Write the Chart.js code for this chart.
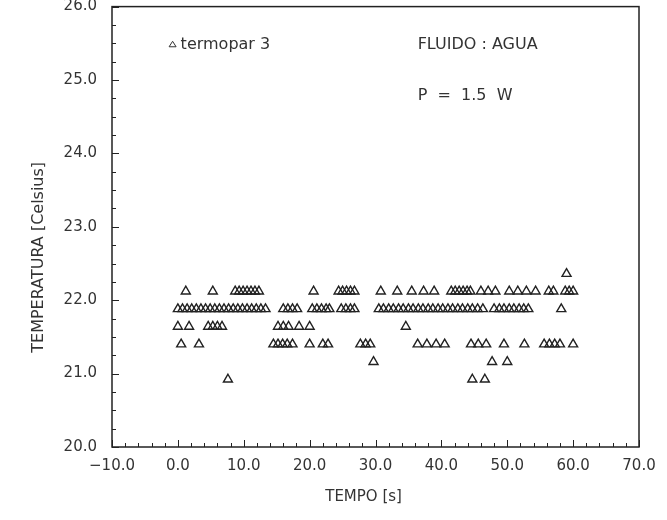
<!DOCTYPE html>
<html lang="pt">
<head>
  <meta charset="UTF-8" />
  <title>termopar 3 - FLUIDO : AGUA</title>
  <script src="https://cdn.jsdelivr.net/npm/chart.js"></script>
  <style>
    html, body { margin: 0; padding: 0; background: #fff; }
    .wrap { width: 667px; height: 520px; }
  </style>
</head>
<body>
  <div class="wrap"><canvas id="grafico"></canvas></div>

  <script>
    // níveis de temperatura [Celsius]
    const niveis = [22.36, 22.12, 21.88, 21.64, 21.40, 21.16, 20.92];

    // instantes [s] em que cada nível aparece
    const tempos_22_36 = [59.0];
    const tempos_22_12 = [1.2, 5.3, 8.7, 9.3, 9.9, 10.5, 11.1, 11.7, 12.3, 20.6, 24.4, 25.0, 25.6, 26.2, 26.8,
      30.8, 33.3, 35.5, 37.3, 38.9, 41.5, 42.1, 42.7, 43.3, 43.9, 44.4, 46.0, 47.1, 48.2,
      50.3, 51.6, 52.9, 54.3, 56.3, 57.0, 58.8, 59.4, 60.0];
    const tempos_21_88 = [0.0, 0.7, 1.4, 2.1, 2.8, 3.5, 4.2, 4.9, 5.6, 6.3, 7.0, 7.7, 8.4, 9.1, 9.8, 10.5,
      11.2, 11.9, 12.6, 13.3, 16.0, 16.7, 17.4, 18.1, 20.4, 21.1, 21.8, 22.5, 23.0, 24.8, 25.5, 26.2, 26.8,
      30.5, 31.2, 32.0, 32.7, 33.5, 34.2, 35.0, 35.7, 36.5, 37.2, 38.0, 38.7, 39.5, 40.2, 41.0, 41.7,
      42.5, 43.2, 44.0, 44.7, 45.5, 46.3, 48.0, 48.8, 49.5, 50.3, 51.0, 51.8, 52.5, 53.2, 58.2];
    const tempos_21_64 = [0.0, 1.7, 4.6, 5.3, 6.0, 6.7, 15.2, 16.0, 16.8, 18.4, 20.0, 34.6];
    const tempos_21_40 = [0.5, 3.2, 14.5, 15.2, 15.9, 16.6, 17.4, 20.0, 22.0, 22.8, 27.7, 28.5, 29.2,
      36.4, 37.8, 39.2, 40.5, 44.5, 45.6, 46.8, 49.5, 52.6, 55.6, 56.4, 57.2, 58.0, 60.0];
    const tempos_21_16 = [29.7, 47.7, 50.0];
    const tempos_20_92 = [7.6, 44.7, 46.6];

    const temposPorNivel = [tempos_22_36, tempos_22_12, tempos_21_88, tempos_21_64, tempos_21_40, tempos_21_16, tempos_20_92];

    const pontos = [];
    temposPorNivel.forEach((lista, i) => {
      lista.forEach(t => pontos.push({ x: t, y: niveis[i] }));
    });

    const corTexto = '#333';
    const fonte = 'DejaVu Sans';

    // moldura, marcas internas e anotações
    const moldura = {
      id: 'moldura',
      afterDraw(chart) {
        const { ctx, chartArea: a, scales: { x, y } } = chart;
        ctx.save();
        ctx.strokeStyle = '#222';
        ctx.lineWidth = 1.5;
        ctx.strokeRect(a.left, a.top, a.right - a.left, a.bottom - a.top);

        ctx.lineWidth = 1;
        ctx.beginPath();
        for (let v = -10; v <= 70; v += 2) {
          const px = Math.round(x.getPixelForValue(v)) + 0.5;
          const len = v % 10 === 0 ? 7 : 4;
          ctx.moveTo(px, a.bottom);
          ctx.lineTo(px, a.bottom - len);
        }
        for (let k = 0; k <= 24; k++) {
          const py = Math.round(y.getPixelForValue(20 + k * 0.25)) + 0.5;
          const len = k % 4 === 0 ? 7 : 4;
          ctx.moveTo(a.left, py);
          ctx.lineTo(a.left + len, py);
        }
        ctx.stroke();

        // legenda
        ctx.fillStyle = corTexto;
        ctx.font = '16px ' + fonte;
        ctx.textBaseline = 'middle';
        const lx = x.getPixelForValue(-0.8);
        const ly = y.getPixelForValue(25.48);
        ctx.beginPath();
        ctx.moveTo(lx, ly - 3.5);
        ctx.lineTo(lx + 3.5, ly + 2);
        ctx.lineTo(lx - 3.5, ly + 2);
        ctx.closePath();
        ctx.strokeStyle = '#333';
        ctx.stroke();
        ctx.fillText('termopar 3', lx + 8, ly);

        ctx.fillText('FLUIDO : AGUA', x.getPixelForValue(36.4), ly);
        ctx.fillText('P  =  1.5  W', x.getPixelForValue(36.4), y.getPixelForValue(24.78));
        ctx.restore();
      }
    };

    const fmt = v => v.toFixed(1).replace('-', '\u2212');

    new Chart(document.getElementById('grafico'), {
      type: 'scatter',
      data: {
        datasets: [{
          label: 'termopar 3',
          data: pontos,
          pointStyle: 'triangle',
          pointRadius: 5.2,
          pointBorderWidth: 1.4,
          borderColor: '#222',
          backgroundColor: 'rgba(0,0,0,0)'
        }]
      },
      options: {
        responsive: true,
        maintainAspectRatio: false,
        animation: false,
        layout: { padding: { left: 0, right: 28, top: 6, bottom: 0 } },
        plugins: {
          legend: { display: false },
          tooltip: { enabled: false }
        },
        scales: {
          x: {
            type: 'linear',
            min: -10,
            max: 70,
            grid: { display: false, drawTicks: false },
            border: { display: false },
            ticks: {
              stepSize: 10,
              color: corTexto,
              font: { family: fonte, size: 15 },
              padding: 10,
              maxRotation: 0,
              callback: v => fmt(v)
            },
            title: {
              display: true,
              // espaços finais deslocam o título para a esquerda, como no original
              text: 'TEMPO [s]' + '\u00a0'.repeat(5),
              color: corTexto,
              font: { family: fonte, size: 15 },
              padding: { top: 0, bottom: 14 }
            },
            afterFit: s => { s.height = 73; }
          },
          y: {
            min: 20,
            max: 26,
            grid: { display: false, drawTicks: false },
            border: { display: false },
            ticks: {
              stepSize: 1,
              color: corTexto,
              font: { family: fonte, size: 15 },
              padding: 15,
              callback: v => fmt(v)
            },
            title: {
              display: true,
              text: 'TEMPERATURA [Celsius]' + '\u00a0'.repeat(12),
              color: corTexto,
              font: { family: fonte, size: 16 },
              padding: { top: 29, bottom: 0 }
            },
            afterFit: s => { s.width = 112; s.paddingTop = 0; s.paddingBottom = 0; }
          }
        }
      },
      plugins: [moldura]
    });
  </script>
</body>
</html>
